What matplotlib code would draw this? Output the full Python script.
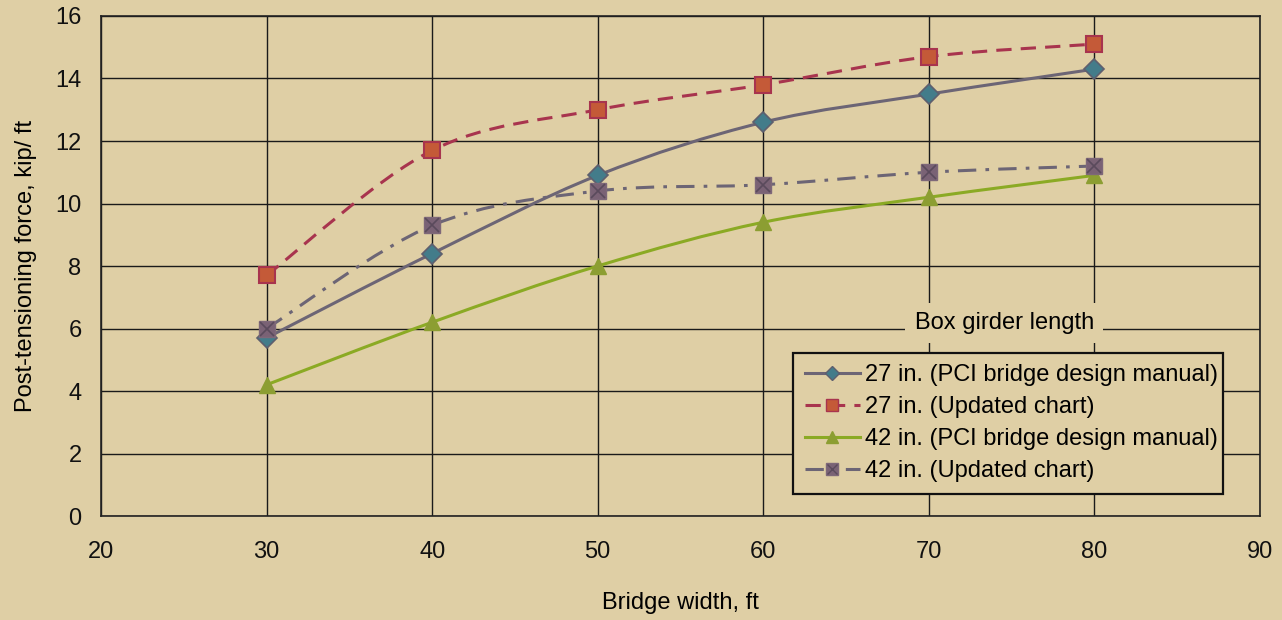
import matplotlib
matplotlib.use("Agg")
import matplotlib.pyplot as plt
import numpy as np
from matplotlib.path import Path
from matplotlib.patches import PathPatch
from matplotlib.lines import Line2D
from matplotlib.legend_handler import HandlerTuple

plt.rcParams['font.family'] = ['Liberation Sans', 'DejaVu Sans']

# Bridge width (ft) and post-tensioning force (kip/ft)
widths = [30, 40, 50, 60, 70, 80]
pci_27 = [5.7, 8.4, 10.9, 12.6, 13.5, 14.3]
upd_27 = [7.7, 11.7, 13.0, 13.8, 14.7, 15.1]
pci_42 = [4.2, 6.2, 8.0, 9.4, 10.2, 10.9]
upd_42 = [6.0, 9.3, 10.4, 10.6, 11.0, 11.2]

labels = ["27 in. (PCI bridge design manual)",
          "27 in. (Updated chart)",
          "42 in. (PCI bridge design manual)",
          "42 in. (Updated chart)"]

x_ticks = [20, 30, 40, 50, 60, 70, 80, 90]
y_ticks = [0, 2, 4, 6, 8, 10, 12, 14, 16]

BG = "#DFCFA5"
GRAY = "#6C6575"
RED = "#A8344E"
GREEN = "#8BAA24"
FS = 17


def smooth_path(xs, ys):
    """Catmull-Rom spline through the points, expressed as cubic Bezier segments."""
    pts = np.column_stack([xs, ys]).astype(float)
    n = len(pts)
    verts = [pts[0]]
    codes = [Path.MOVETO]
    for i in range(n - 1):
        p0 = pts[i - 1] if i > 0 else pts[i]
        p1 = pts[i]
        p2 = pts[i + 1]
        p3 = pts[i + 2] if i + 2 < n else pts[i + 1]
        c1 = p1 + (p2 - p0) / 6.0
        c2 = p2 - (p3 - p1) / 6.0
        verts += [c1, c2, p2]
        codes += [Path.CURVE4] * 3
    return Path(verts, codes)


fig = plt.figure(figsize=(12.82, 6.2), dpi=100, facecolor=BG)
ax = fig.add_axes([0.0788, 0.1677, 0.904, 0.8065], facecolor=BG)

ax.set_xlim(20, 90)
ax.set_ylim(0, 16)
ax.set_xticks(x_ticks)
ax.set_yticks(y_ticks)
ax.tick_params(length=0, labelsize=FS, colors="#111111")
ax.tick_params(axis="x", pad=18)
ax.tick_params(axis="y", pad=14)
ax.grid(True, color="#1a1a1a", linewidth=1.0)
ax.set_axisbelow(True)
for sp in ax.spines.values():
    sp.set_color("#222222")
    sp.set_linewidth(1.2)

ax.set_xlabel("Bridge width, ft", fontsize=FS, labelpad=21)
ax.set_ylabel("Post-tensioning force, kip/ ft", fontsize=FS, labelpad=13)

lw = 2.2
dash_red = (0, (5, 3))
dash_dot = (0, (6, 3, 1.2, 3))

# Smoothed curves
ax.add_patch(PathPatch(smooth_path(widths, pci_27), fill=False, edgecolor=GRAY,
                       linewidth=lw, zorder=3))
ax.add_patch(PathPatch(smooth_path(widths, upd_27), fill=False, edgecolor=RED,
                       linewidth=lw, linestyle=dash_red, zorder=3))
ax.add_patch(PathPatch(smooth_path(widths, pci_42), fill=False, edgecolor=GREEN,
                       linewidth=lw, zorder=3))
ax.add_patch(PathPatch(smooth_path(widths, upd_42), fill=False, edgecolor=GRAY,
                       linewidth=lw, linestyle=dash_dot, zorder=3))

# Markers
ax.plot(widths, pci_27, linestyle="none", marker="D", markersize=10,
        markerfacecolor="#437C8A", markeredgecolor="#5E5F6E", markeredgewidth=1.2, zorder=5)
ax.plot(widths, upd_27, linestyle="none", marker="s", markersize=11,
        markerfacecolor="#C45A38", markeredgecolor=RED, markeredgewidth=1.5, zorder=5)
ax.plot(widths, pci_42, linestyle="none", marker="^", markersize=12,
        markerfacecolor="#8C9E32", markeredgecolor="#8C9E32", markeredgewidth=1.0, zorder=4)
ax.plot(widths, upd_42, linestyle="none", marker="s", markersize=11,
        markerfacecolor="#7A6275", markeredgecolor="#7E6879", markeredgewidth=1.0, zorder=5)
ax.plot(widths, upd_42, linestyle="none", marker="x", markersize=10,
        markeredgecolor="#5A4A5C", markeredgewidth=1.2, zorder=6)

# Legend
h1 = Line2D([], [], color=GRAY, linewidth=lw, marker="D", markersize=7,
            markerfacecolor="#437C8A", markeredgecolor="#5E5F6E")
h2 = Line2D([], [], color=RED, linewidth=lw, linestyle=dash_red, marker="s", markersize=8,
            markerfacecolor="#C45A38", markeredgecolor=RED)
h3 = Line2D([], [], color=GREEN, linewidth=lw, marker="^", markersize=9,
            markerfacecolor="#8C9E32", markeredgecolor="#8C9E32")
h4a = Line2D([], [], color=GRAY, linewidth=lw, linestyle=dash_dot, marker="s", markersize=8,
             markerfacecolor="#7A6275", markeredgecolor="#7E6879")
h4b = Line2D([], [], linestyle="none", marker="x", markersize=7,
             markeredgecolor="#5A4A5C", markeredgewidth=1.0)

leg = ax.legend([h1, h2, h3, (h4a, h4b)], labels,
                handler_map={tuple: HandlerTuple(ndivide=1)},
                loc="lower left", bbox_to_anchor=(0.597, 0.044, 0.371, 0.288),
                mode="expand", fontsize=FS, frameon=True, fancybox=False,
                facecolor=BG, edgecolor="#111111", framealpha=1.0,
                handlelength=2.35, handletextpad=0.2, labelspacing=0.42,
                borderpad=0.5, borderaxespad=0)
leg.get_frame().set_linewidth(1.6)
leg.set_zorder(8)

ax.text(0.7795, 0.386, "Box girder length", transform=ax.transAxes,
        ha="center", va="center", fontsize=FS, zorder=9,
        bbox=dict(boxstyle="square,pad=0.4", facecolor=BG, edgecolor="none"))

fig.savefig("out.png", dpi=100, facecolor=BG)
